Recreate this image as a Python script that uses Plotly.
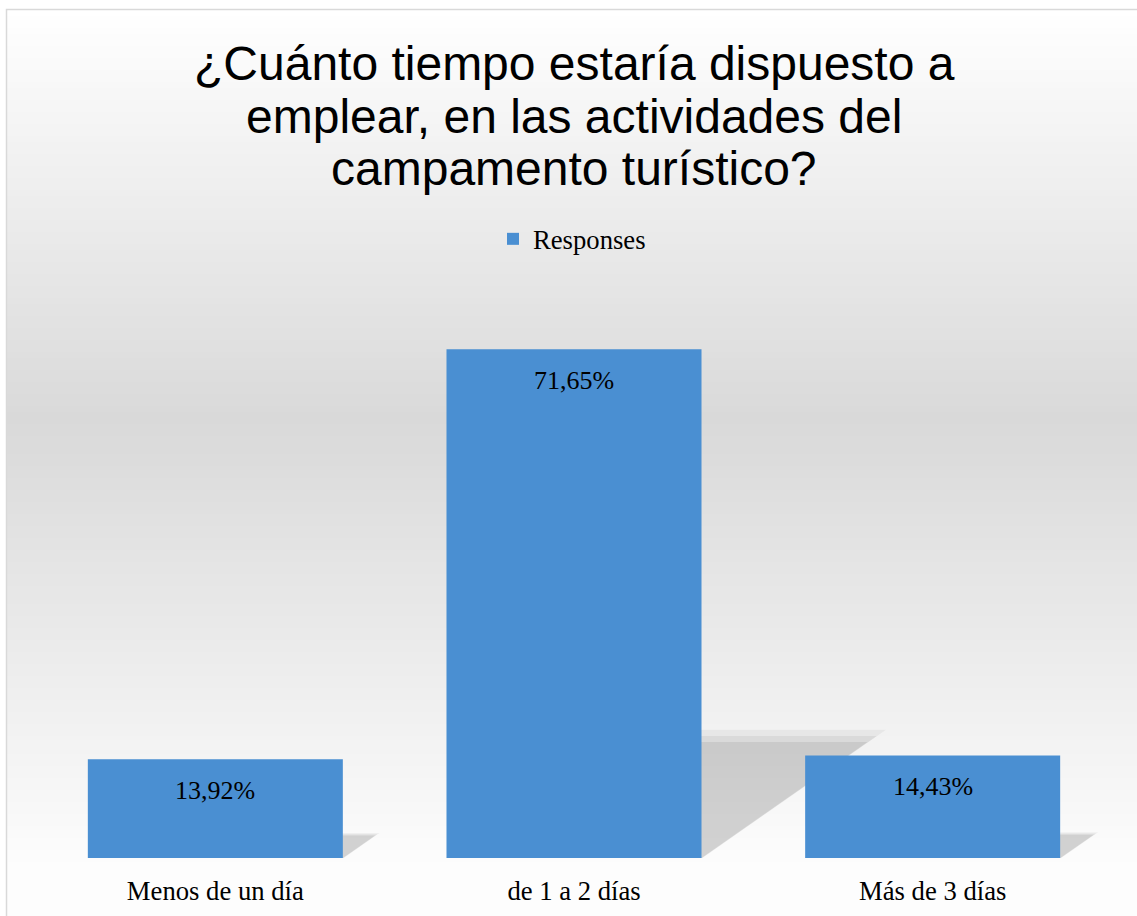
import plotly.graph_objects as go

categories = ["Menos de un día", "de 1 a 2 días", "Más de 3 días"]
values = [13.92, 71.65, 14.43]
labels = ["13,92%", "71,65%", "14,43%"]
series_name = "Responses"
title_lines = ["¿Cuánto tiempo estaría dispuesto a",
               "emplear, en las actividades del",
               "campamento turístico?"]

W, H = 1137, 916
ML, MR, MT, MB = 36, 25, 290, 58
PW = W - ML - MR
PH = H - MT - MB
YMAX = 80
BARGAP = 0.289

def px_to_paper_x(px):
    return (px - ML) / PW

def px_to_paper_y(py):
    return (H - MB - py) / PH

def grey(py):
    if py <= 420:
        v = 255 - 38 * (py - 10) / 410
    else:
        v = 217 + 36 * min(1, (py - 420) / 450)
    v = int(round(v))
    return f"rgb({v},{v},{v})"

# background gradient + border
shapes = []
step = 6
py = 10
while py < H:
    shapes.append(dict(type="rect", xref="paper", yref="paper", layer="below",
                       x0=px_to_paper_x(7), x1=px_to_paper_x(W + 5),
                       y0=px_to_paper_y(min(py + step, H + 5)), y1=px_to_paper_y(py),
                       fillcolor=grey(py + step / 2), line=dict(width=0)))
    py += step
shapes.append(dict(type="rect", xref="paper", yref="paper", layer="below",
                   x0=px_to_paper_x(6.5), x1=px_to_paper_x(W + 10),
                   y0=px_to_paper_y(H + 10), y1=px_to_paper_y(9.5),
                   fillcolor="rgba(0,0,0,0)", line=dict(color="#d9d9d9", width=1.5)))

fig = go.Figure()

# perspective shadows derived from the values (on the base axes, drawn beneath the bars)
xpos = list(range(len(categories)))
hw = (1 - BARGAP) / 2
for i, v in zip(xpos, values):
    for grow, alpha in [(1.05, 0.045), (1.0, 0.06), (0.95, 0.07)]:
        dx = 0.0068 * v * grow
        ty = 0.24 * v * grow
        x0, x1 = i - hw, i + hw + 0.03 * (grow - 0.95)
        fig.add_trace(go.Scatter(
            x=[x0, x1, x1 + dx, x0 + dx, x0],
            y=[0, 0, ty, ty, 0],
            mode="lines", fill="toself", line=dict(width=0),
            fillcolor=f"rgba(0,0,0,{alpha})", hoverinfo="skip", showlegend=False,
            xaxis="x", yaxis="y",
        ))

fig.add_trace(go.Bar(
    x=xpos, y=values, name=series_name, width=1 - BARGAP,
    marker=dict(color="#4a8fd2", line=dict(width=0)),
    showlegend=True, xaxis="x2", yaxis="y2",
))

annotations = []
for i, v, t in zip(xpos, values, labels):
    annotations.append(dict(x=i, y=v, xref="x2", yref="y2", text=t, showarrow=False,
                            yanchor="middle", yshift=-31,
                            font=dict(family="Liberation Serif", size=26, color="#000000")))

title_baselines = [77.5, 130, 182.5]
for line, b in zip(title_lines, title_baselines):
    annotations.append(dict(x=px_to_paper_x(574), y=px_to_paper_y(b - 14), xref="paper", yref="paper",
                            text=line, showarrow=False, xanchor="center", yanchor="middle",
                            font=dict(family="Liberation Sans", size=48, color="#000000")))

xr = [-0.5, len(categories) - 0.5]
fig.update_layout(
    width=W, height=H,
    margin=dict(l=ML, r=MR, t=MT, b=MB, autoexpand=False),
    paper_bgcolor="white",
    plot_bgcolor="rgba(0,0,0,0)",
    legend=dict(orientation="h", x=px_to_paper_x(493), xanchor="left",
                y=px_to_paper_y(239), yanchor="middle",
                bgcolor="rgba(0,0,0,0)",
                font=dict(family="Liberation Serif", size=26.67, color="#000000")),
    xaxis=dict(range=xr, tickmode="array", tickvals=xpos,
               ticktext=categories, showgrid=False, showline=False, zeroline=False,
               ticks="", ticklabelstandoff=14,
               tickfont=dict(family="Liberation Serif", size=26.67, color="#000000")),
    yaxis=dict(range=[0, YMAX], visible=False, showgrid=False, zeroline=False),
    xaxis2=dict(range=xr, overlaying="x", visible=False, showgrid=False, zeroline=False),
    yaxis2=dict(range=[0, YMAX], overlaying="y", visible=False, showgrid=False, zeroline=False),
    shapes=shapes,
    annotations=annotations,
)

fig.write_html("out.html")
